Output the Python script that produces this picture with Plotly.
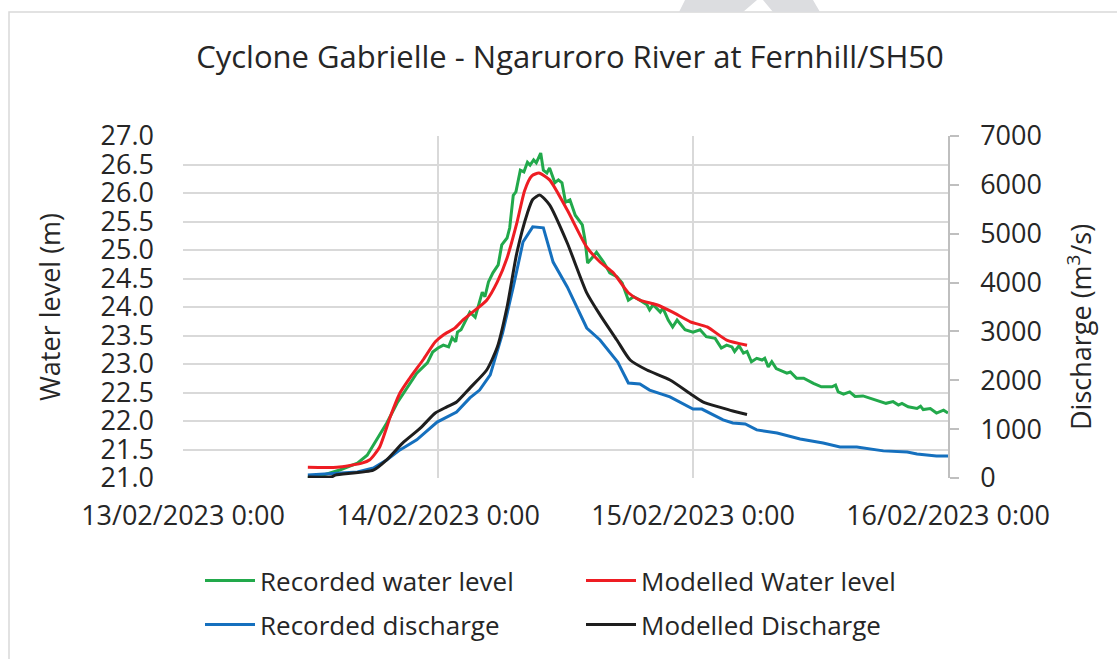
import plotly.graph_objects as go

# ---- data -------------------------------------------------------------
rec_wl_time = [
    "2023-02-13 11:45", "2023-02-13 13:10", "2023-02-13 14:45", "2023-02-13 16:25",
    "2023-02-13 17:20", "2023-02-13 18:15", "2023-02-13 19:10", "2023-02-13 20:10",
    "2023-02-13 21:05", "2023-02-13 22:00", "2023-02-13 23:00", "2023-02-13 23:30",
    "2023-02-14 00:00", "2023-02-14 00:30", "2023-02-14 01:00", "2023-02-14 01:20",
    "2023-02-14 01:40", "2023-02-14 01:50", "2023-02-14 02:10", "2023-02-14 02:30",
    "2023-02-14 03:00", "2023-02-14 03:30", "2023-02-14 04:10", "2023-02-14 04:25",
    "2023-02-14 04:45", "2023-02-14 05:10", "2023-02-14 05:40", "2023-02-14 06:00",
    "2023-02-14 06:30", "2023-02-14 06:45", "2023-02-14 07:05", "2023-02-14 07:20",
    "2023-02-14 07:45", "2023-02-14 08:05", "2023-02-14 08:25", "2023-02-14 08:40",
    "2023-02-14 09:00", "2023-02-14 09:15", "2023-02-14 09:40", "2023-02-14 09:55",
    "2023-02-14 10:15", "2023-02-14 10:30", "2023-02-14 11:00", "2023-02-14 11:20",
    "2023-02-14 11:40", "2023-02-14 12:00", "2023-02-14 12:25", "2023-02-14 12:55",
    "2023-02-14 13:35", "2023-02-14 13:50", "2023-02-14 14:05", "2023-02-14 14:35",
    "2023-02-14 14:55", "2023-02-14 15:35", "2023-02-14 16:10", "2023-02-14 16:50",
    "2023-02-14 17:20", "2023-02-14 17:55", "2023-02-14 18:25", "2023-02-14 19:00",
    "2023-02-14 19:40", "2023-02-14 19:55", "2023-02-14 20:15", "2023-02-14 20:55",
    "2023-02-14 21:10", "2023-02-14 21:40", "2023-02-14 22:05", "2023-02-14 22:30",
    "2023-02-14 23:15", "2023-02-15 00:00", "2023-02-15 00:40", "2023-02-15 01:15",
    "2023-02-15 02:05", "2023-02-15 02:40", "2023-02-15 03:10", "2023-02-15 03:40",
    "2023-02-15 03:55", "2023-02-15 04:20", "2023-02-15 04:45", "2023-02-15 05:05",
    "2023-02-15 05:30", "2023-02-15 06:00", "2023-02-15 06:30", "2023-02-15 06:45",
    "2023-02-15 07:05", "2023-02-15 07:25", "2023-02-15 07:50", "2023-02-15 08:50",
    "2023-02-15 09:10", "2023-02-15 09:45", "2023-02-15 10:25", "2023-02-15 11:20",
    "2023-02-15 12:05", "2023-02-15 13:05", "2023-02-15 13:25", "2023-02-15 13:40",
    "2023-02-15 14:10", "2023-02-15 14:45", "2023-02-15 15:15", "2023-02-15 16:00",
    "2023-02-15 16:40", "2023-02-15 17:00", "2023-02-15 17:35", "2023-02-15 18:10",
    "2023-02-15 18:50", "2023-02-15 19:20", "2023-02-15 19:40", "2023-02-15 20:15",
    "2023-02-15 21:05", "2023-02-15 21:25", "2023-02-15 21:40", "2023-02-15 22:20",
    "2023-02-15 22:55", "2023-02-15 23:35", "2023-02-16 00:00",
]
rec_wl = [
    21.00, 21.05, 21.14, 21.26, 21.40, 21.67, 21.96, 22.32,
    22.58, 22.84, 23.02, 23.21, 23.28, 23.33, 23.30, 23.46,
    23.39, 23.56, 23.60, 23.72, 23.91, 23.82, 24.26, 24.18,
    24.44, 24.60, 24.74, 25.09, 25.21, 25.39, 25.96, 26.02,
    26.40, 26.37, 26.54, 26.49, 26.58, 26.53, 26.70, 26.40,
    26.35, 26.44, 26.18, 26.23, 26.18, 25.84, 25.88, 25.61,
    25.44, 25.18, 24.77, 24.88, 24.96, 24.79, 24.60, 24.53,
    24.42, 24.12, 24.18, 24.12, 24.04, 23.95, 24.04, 23.91,
    23.98, 23.77, 23.65, 23.77, 23.60, 23.56, 23.60, 23.48,
    23.45, 23.28, 23.33, 23.30, 23.22, 23.32, 23.19, 23.22,
    23.04, 23.10, 23.07, 23.10, 22.95, 23.04, 22.92, 22.84,
    22.86, 22.75, 22.75, 22.66, 22.60, 22.60, 22.63, 22.51,
    22.47, 22.51, 22.43, 22.44, 22.40, 22.37, 22.34, 22.31,
    22.34, 22.28, 22.31, 22.25, 22.22, 22.26, 22.20, 22.22,
    22.14, 22.19, 22.14,
]

mod_wl_time = [
    "2023-02-13 11:45", "2023-02-13 14:30", "2023-02-13 16:50", "2023-02-13 17:35",
    "2023-02-13 18:30", "2023-02-13 19:30", "2023-02-13 20:25", "2023-02-13 21:20",
    "2023-02-13 22:35", "2023-02-13 23:45", "2023-02-14 00:30", "2023-02-14 01:35",
    "2023-02-14 02:20", "2023-02-14 03:15", "2023-02-14 04:35", "2023-02-14 05:35",
    "2023-02-14 06:30", "2023-02-14 07:25", "2023-02-14 08:10", "2023-02-14 08:50",
    "2023-02-14 09:30", "2023-02-14 10:30", "2023-02-14 12:10", "2023-02-14 14:00",
    "2023-02-14 15:15", "2023-02-14 16:30", "2023-02-14 17:55", "2023-02-14 19:00",
    "2023-02-14 20:35", "2023-02-14 22:05", "2023-02-14 23:45", "2023-02-15 01:20",
    "2023-02-15 03:10", "2023-02-15 05:05",
]
mod_wl = [
    21.19, 21.19, 21.26, 21.32, 21.54, 22.07, 22.49, 22.75,
    23.07, 23.39, 23.51, 23.63, 23.77, 23.91, 24.12, 24.44,
    24.86, 25.47, 26.05, 26.30, 26.35, 26.23, 25.70, 25.05,
    24.79, 24.60, 24.25, 24.12, 24.04, 23.91, 23.74, 23.65,
    23.42, 23.33,
]

rec_q_time = [
    "2023-02-13 11:45", "2023-02-13 16:25", "2023-02-13 17:55", "2023-02-13 19:10",
    "2023-02-13 20:25", "2023-02-13 22:00", "2023-02-13 23:55", "2023-02-14 01:45",
    "2023-02-14 03:00", "2023-02-14 03:55", "2023-02-14 04:55", "2023-02-14 06:05",
    "2023-02-14 07:05", "2023-02-14 08:00", "2023-02-14 08:55", "2023-02-14 09:55",
    "2023-02-14 10:50", "2023-02-14 12:10", "2023-02-14 14:00", "2023-02-14 15:15",
    "2023-02-14 16:55", "2023-02-14 17:55", "2023-02-14 19:00", "2023-02-14 19:55",
    "2023-02-14 21:50", "2023-02-15 00:00", "2023-02-15 00:50", "2023-02-15 02:50",
    "2023-02-15 03:45", "2023-02-15 04:55", "2023-02-15 06:00", "2023-02-15 07:55",
    "2023-02-15 10:05", "2023-02-15 12:15", "2023-02-15 13:50", "2023-02-15 15:25",
    "2023-02-15 17:55", "2023-02-15 20:10", "2023-02-15 21:05", "2023-02-15 22:55",
    "2023-02-16 00:00",
]
rec_q = [
    60, 125, 205, 370, 575, 780, 1145, 1350,
    1640, 1800, 2110, 2970, 3910, 4830, 5140, 5120,
    4420, 3910, 3070, 2825, 2375, 1945, 1925, 1800,
    1660, 1410, 1410, 1190, 1125, 1105, 985, 920,
    800, 715, 635, 635, 555, 530, 490, 450,
    450,
]

mod_q_time = [
    "2023-02-13 11:45", "2023-02-13 14:00", "2023-02-13 14:20", "2023-02-13 17:55",
    "2023-02-13 19:10", "2023-02-13 20:40", "2023-02-13 22:20", "2023-02-13 23:45",
    "2023-02-14 00:50", "2023-02-14 01:45", "2023-02-14 03:00", "2023-02-14 04:35",
    "2023-02-14 05:35", "2023-02-14 06:30", "2023-02-14 07:25", "2023-02-14 08:25",
    "2023-02-14 08:55", "2023-02-14 09:35", "2023-02-14 10:30", "2023-02-14 12:10",
    "2023-02-14 14:00", "2023-02-14 15:15", "2023-02-14 16:50", "2023-02-14 18:05",
    "2023-02-14 19:40", "2023-02-14 21:50", "2023-02-14 23:55", "2023-02-15 00:55",
    "2023-02-15 02:30", "2023-02-15 03:45", "2023-02-15 05:05",
]
mod_q = [
    20, 25, 60, 160, 370, 715, 1020, 1330,
    1455, 1555, 1840, 2210, 2680, 3500, 4605, 5425,
    5700, 5790, 5590, 4810, 3790, 3340, 2825, 2415,
    2210, 2005, 1700, 1560, 1450, 1370, 1300,
]

day_ticks = ["2023-02-13", "2023-02-14", "2023-02-15", "2023-02-16"]
day_labels = ["13/02/2023 0:00", "14/02/2023 0:00", "15/02/2023 0:00", "16/02/2023 0:00"]
wl_ticks = [21.0, 21.5, 22.0, 22.5, 23.0, 23.5, 24.0, 24.5, 25.0, 25.5, 26.0, 26.5, 27.0]
q_ticks = [0, 1000, 2000, 3000, 4000, 5000, 6000, 7000]

# ---- styling ----------------------------------------------------------
W, H = 1117, 659
ML, MR, MT, MB = 183, 169, 136, 181
FONT = "Open Sans"
TXT = "#262626"
GRID = "#d9d9d9"


def px(x):
    """pixel column -> paper x"""
    return (x - ML) / (W - ML - MR)


def py(y):
    """pixel row -> paper y"""
    return (H - MB - y) / (H - MT - MB)


fig = go.Figure()
fig.add_trace(go.Scatter(x=rec_wl_time, y=rec_wl, name="Recorded water level",
                         mode="lines", line=dict(color="#22A94B", width=3),
                         legend="legend"))
fig.add_trace(go.Scatter(x=mod_wl_time, y=mod_wl, name="Modelled Water level",
                         mode="lines", line=dict(color="#EE1D23", width=3, shape="spline", smoothing=0.6),
                         legend="legend"))
fig.add_trace(go.Scatter(x=rec_q_time, y=rec_q, name="Recorded discharge", yaxis="y2",
                         mode="lines", line=dict(color="#1570BE", width=3),
                         legend="legend2"))
fig.add_trace(go.Scatter(x=mod_q_time, y=mod_q, name="Modelled Discharge", yaxis="y2",
                         mode="lines", line=dict(color="#1E1E1E", width=3, shape="spline", smoothing=0.6),
                         legend="legend2"))

legend_common = dict(orientation="h", x=px(200), xanchor="left", yanchor="top",
                     entrywidth=316, entrywidthmode="pixels", itemwidth=50,
                     font=dict(family=FONT, size=26, color=TXT), bgcolor="rgba(0,0,0,0)",
                     traceorder="normal")

fig.update_layout(
    width=W, height=H,
    margin=dict(l=ML, r=MR, t=MT, b=MB, autoexpand=False),
    paper_bgcolor="white", plot_bgcolor="white",
    font=dict(family=FONT, size=27, color=TXT),
    title=dict(text="Cyclone Gabrielle - Ngaruroro River at Fernhill/SH50",
               x=570 / W, xanchor="center", xref="container",
               y=1 - 57 / H, yanchor="middle", yref="container",
               font=dict(family=FONT, size=31, color=TXT)),
    xaxis=dict(type="date", range=["2023-02-13", "2023-02-16"],
               tickvals=day_ticks, ticktext=day_labels,
               showgrid=True, gridcolor=GRID, gridwidth=1.5,
               zeroline=False, showline=False, ticks="", automargin=False,
               ticklabelstandoff=19),
    yaxis=dict(range=[21, 27], tickvals=wl_ticks, tickformat=".1f",
               showgrid=True, gridcolor=GRID, gridwidth=1.5,
               zeroline=False, showline=False, ticks="", automargin=False,
               ticklabelstandoff=28,
               title=dict(text="Water level (m)", standoff=32, font=dict(size=27))),
    yaxis2=dict(range=[0, 7000], tickvals=q_ticks, overlaying="y", side="right",
                showgrid=False, zeroline=False, showline=True, linecolor="#bfbfbf", linewidth=1.5,
                ticks="outside", ticklen=9, tickcolor="#bfbfbf", tickwidth=1.5,
                automargin=False, ticklabelstandoff=16),
    showlegend=True,
    legend=dict(legend_common, y=py(557)),
    legend2=dict(legend_common, y=py(601)),
    annotations=[
        dict(text="Discharge (m<sup>3</sup>/s)", textangle=-90,
             xref="paper", yref="paper", x=px(1079), y=py(327),
             xanchor="center", yanchor="middle", showarrow=False,
             font=dict(family=FONT, size=27, color=TXT)),
    ],
    shapes=[
        # outer chart frame
        dict(type="rect", xref="paper", yref="paper", x0=px(9), x1=px(1130), y0=py(680), y1=py(12),
             line=dict(color="#d9d9d9", width=1.5), fillcolor="rgba(0,0,0,0)", layer="below"),
        # grey chevron along the top edge
        dict(type="path", xref="paper", yref="paper",
             path=(f"M{px(679)},{py(12)} L{px(685)},{py(0)} L{px(757)},{py(0)} L{px(743)},{py(12)} Z "
                   f"M{px(763)},{py(0)} L{px(813)},{py(0)} L{px(820)},{py(12)} L{px(773)},{py(12)} Z"),
             fillcolor="#dcdde0", line=dict(width=0), layer="below"),
    ],
)

fig.write_html("out.html")
